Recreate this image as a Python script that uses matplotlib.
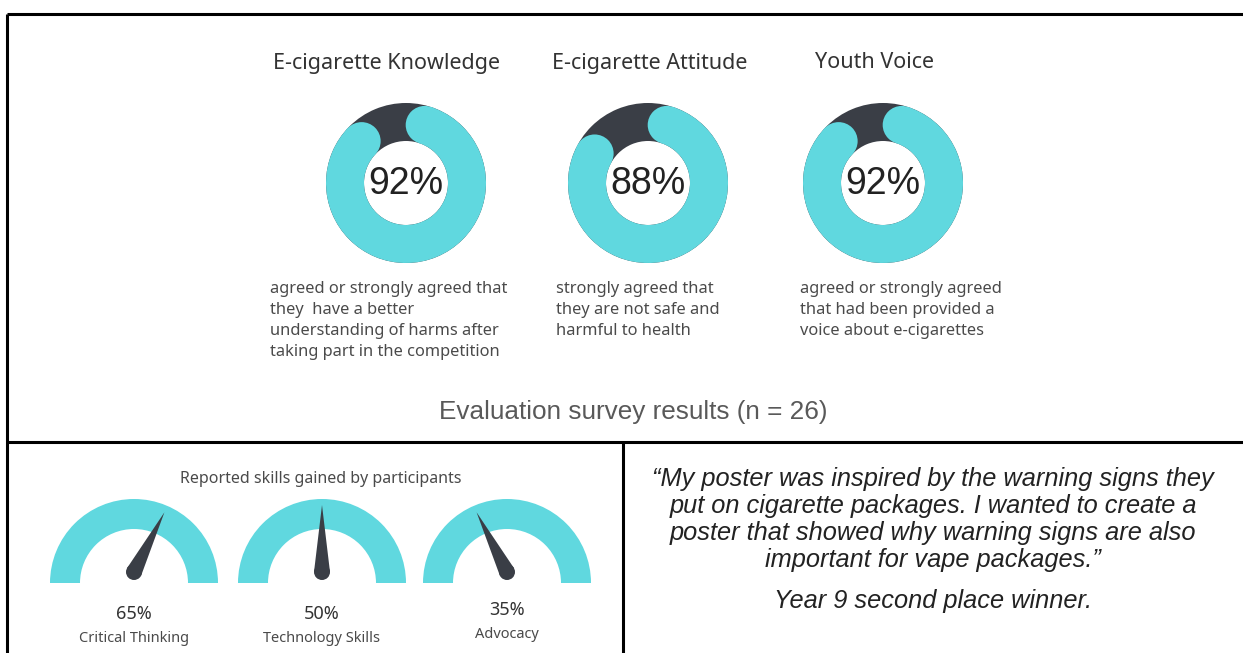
import matplotlib.pyplot as plt
from matplotlib.patches import Wedge, Circle, Polygon
import numpy as np

# survey donuts
donut_titles = ['E-cigarette Knowledge', 'E-cigarette Attitude', 'Youth Voice']
donut_values = [92, 88, 92]
donut_captions = [
    'agreed or strongly agreed that\nthey  have a better\nunderstanding of harms after\ntaking part in the competition',
    'strongly agreed that\nthey are not safe and\nharmful to health',
    'agreed or strongly agreed\nthat had been provided a\nvoice about e-cigarettes',
]
survey_note = 'Evaluation survey results (n = 26)'

# skills gauges
gauge_title = 'Reported skills gained by participants'
skill_names = ['Critical Thinking', 'Technology Skills', 'Advocacy']
skill_values = [65, 50, 35]

quote_lines = [
    '\u201cMy poster was inspired by the warning signs they',
    'put on cigarette packages. I wanted to create a',
    'poster that showed why warning signs are also',
    'important for vape packages.\u201d',
]
quote_author = 'Year 9 second place winner.'

teal = '#60d8df'
dark = '#3a3e46'

W, H = 1243, 653
fig = plt.figure(figsize=(W / 100, H / 100), dpi=100)
ax = fig.add_axes([0, 0, 1, 1])
ax.set_xlim(0, W)
ax.set_ylim(H, 0)  # pixel-like coords, y down
ax.axis('off')

# table borders
lw = 2.2
ax.plot([7, W], [14, 14], color='black', lw=lw, solid_capstyle='butt')
ax.plot([7, 7], [14, H], color='black', lw=lw, solid_capstyle='butt')
ax.plot([7, W], [442, 442], color='black', lw=lw, solid_capstyle='butt')
ax.plot([623, 623], [442, H], color='black', lw=lw, solid_capstyle='butt')

# donuts (y is flipped, so increasing angle runs clockwise on screen)
donut_x = [406, 648, 883]
title_x = [387, 650, 875]
caption_x = [270, 556, 800]
cy = 183
R, ring = 80, 38
mid = R - ring / 2
cap = np.degrees(ring / 2 / mid)
for i in range(3):
    cx = donut_x[i]
    ax.add_patch(Wedge((cx, cy), R, 0, 360, width=ring, color=dark, lw=0))
    sweep = donut_values[i] / 100 * 360
    a0 = -90 + cap           # arc starts at the top, rounded ends kept inside the arc
    a1 = -90 + sweep - cap
    ax.add_patch(Wedge((cx, cy), R, a0, a1, width=ring, color=teal, lw=0))
    for a in (a0, a1):
        ax.add_patch(Circle((cx + mid * np.cos(np.radians(a)), cy + mid * np.sin(np.radians(a))),
                            ring / 2, color=teal, lw=0))
    ax.text(cx, cy + 1, f'{donut_values[i]}%', ha='center', va='center', fontsize=27,
            family='Liberation Sans', color='#222222')
    ax.text(title_x[i], 63, donut_titles[i], ha='center', va='center', fontsize=15.5,
            family='Noto Sans', color='#333333')
    ax.text(caption_x[i], 281, donut_captions[i], ha='left', va='top', fontsize=11.8,
            family='Noto Sans', color='#4a4a4a', linespacing=1.42)

ax.text(633, 412, survey_note, ha='center', va='center', fontsize=18.8,
        family='Liberation Sans', color='#595959')

# gauges
ax.text(321, 479, gauge_title, ha='center', va='center', fontsize=11.5,
        family='Noto Sans', color='#4a4a4a')
gauge_x = [134, 322, 507]
base_y = 583
GR, band = 84, 30
for i in range(3):
    cx = gauge_x[i]
    ax.add_patch(Wedge((cx, base_y), GR, 180, 360, width=band, color=teal, lw=0))
    # needle
    a = np.radians(180 - skill_values[i] * 1.8)
    px, py = cx, base_y - 11
    L, hw = 67, 8
    tip = (px + L * np.cos(a), py - L * np.sin(a))
    perp = (np.sin(a), np.cos(a))
    ax.add_patch(Polygon([(px + hw * perp[0], py + hw * perp[1]), tip,
                          (px - hw * perp[0], py - hw * perp[1])], closed=True, color=dark, lw=0))
    ax.add_patch(Circle((px, py), hw, color=dark, lw=0))
    dy = -4 if i == 2 else 0
    ax.text(cx, 614 + dy, f'{skill_values[i]}%', ha='center', va='center', fontsize=13,
            family='Noto Sans', color='#333333')
    ax.text(cx, 639 + dy, skill_names[i], ha='center', va='center', fontsize=10.5,
            family='Noto Sans', color='#4a4a4a')

# quote
for k, line in enumerate(quote_lines):
    ax.text(933, 479 + k * 27, line, ha='center', va='center', fontsize=18.3,
            family='Liberation Sans', style='italic', color='#222222')
ax.text(933, 601, quote_author, ha='center', va='center', fontsize=18.3,
        family='Liberation Sans', style='italic', color='#222222')

fig.savefig('out.png', dpi=100, facecolor='white')
